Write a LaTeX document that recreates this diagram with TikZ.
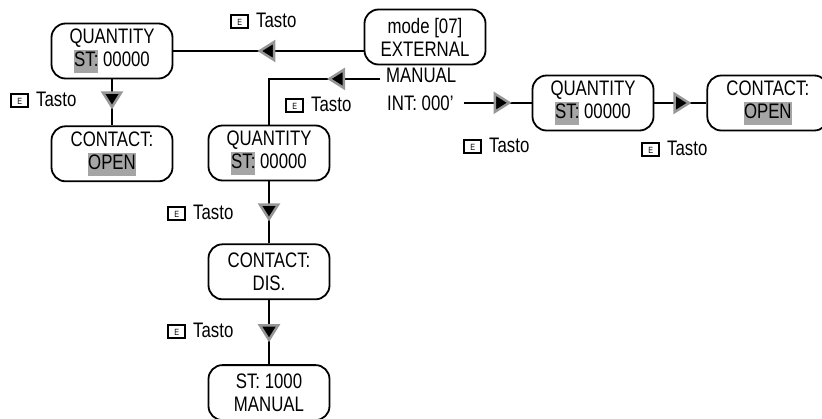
\documentclass[tikz,border=0pt]{standalone}
\usepackage{fontspec}
\setmainfont{Liberation Sans}[FakeStretch=0.8]
\usepackage{xcolor}
\usepackage{tikz}
\usetikzlibrary{arrows.meta, positioning, decorations.markings}

\definecolor{hlgray}{RGB}{165,165,165}
\definecolor{arrowgray}{RGB}{150,150,150}
\newcommand{\dispfont}{\fontsize{21}{23}\selectfont}
\newcommand{\grayhl}[1]{{\setlength{\fboxsep}{0pt}\colorbox{hlgray}{\strut #1}}}
\newcommand{\ekey}{{\setlength{\fboxrule}{2pt}\setlength{\fboxsep}{0pt}%
    \fbox{\makebox[15pt]{\rule{0pt}{11pt}\raisebox{2pt}{\fontsize{9}{9}\selectfont E}}}}}

\begin{document}
\begin{tikzpicture}[
        x=1pt, y=-1pt,
        dispbox/.style={draw, rounded corners=14pt, line width=1.8pt,
            align=center, font=\dispfont, minimum width=121pt, minimum height=55pt,
            inner sep=2pt},
        plaintxt/.style={font=\dispfont, inner ysep=0pt},
        keylbl/.style={anchor=base west, inner sep=0pt, font=\dispfont},
        tri/.tip={Triangle[length=18pt, width=22pt, fill=black, color=arrowgray, line width=2.5pt]},
        flow/.style={line width=2.2pt, postaction={decorate},
            decoration={markings, mark=at position #1 with {\arrow{tri}}}},
    ]
    \useasboundingbox (0,0) rectangle (822,418);

        % Mode
        \node[dispbox] (mode) at (425,37) {mode [07]\\EXTERNAL};
        \node[plaintxt, inner xsep=6pt, anchor=base west] (manualtxt) at (380,82) {MANUAL};
        \node[plaintxt, inner xsep=10pt, anchor=base west] (inttxt) at (377,110) {INT: 000’};

        % External branch
        \node[dispbox] (qtyA) at (112,51) {QUANTITY\\\grayhl{ST:} 00000};
        \node[dispbox, below=46pt of qtyA] (contactA) {CONTACT:\\\grayhl{OPEN}};

        % Manual branch
        \node[dispbox] (qtyC) at (269,153) {QUANTITY\\\grayhl{ST:} 00000};
        \node[dispbox, below=62pt of qtyC] (contactC) {CONTACT:\\DIS.};
        \node[dispbox, below=64pt of contactC] (stman) {ST: 1000\\MANUAL};

        % Internal branch
        \node[dispbox] (qtyF) at (593,103) {QUANTITY\\\grayhl{ST:} 00000};
        \node[dispbox, right=52pt of qtyF] (contactF) {CONTACT:\\\grayhl{OPEN}};

        % Arrows
        \draw[flow=-84pt] (mode.west |- qtyA.east) -- (qtyA.east);
        \draw[flow=-16pt] (qtyA.south) -- (contactA.north);
        \draw[flow=53pt] ([yshift=-4pt]manualtxt.west) -| (qtyC.north);
        \draw[flow=-22pt] (qtyC.south) -- (contactC.north);
        \draw[flow=-22pt] (contactC.south) -- (stman.north);
        \draw[flow=-20pt] (inttxt.east) -- (inttxt.east -| qtyF.west);
        \draw[flow=-15pt] (qtyF.east) -- (contactF.west);

        % Keys
        \node[keylbl] (keymode) at (230,27) {\ekey\hspace{7pt}Tasto};
        \node[keylbl] (keyA) at (10,106) {\ekey\hspace{7pt}Tasto};
        \node[keylbl] (keymanual) at (285,111) {\ekey\hspace{7pt}Tasto};
        \node[keylbl] (keyC) at (167,219) {\ekey\hspace{7pt}Tasto};
        \node[keylbl] (keyD) at (167,337) {\ekey\hspace{7pt}Tasto};
        \node[keylbl] (keyint) at (463,152) {\ekey\hspace{7pt}Tasto};
        \node[keylbl] (keyF) at (641,155) {\ekey\hspace{7pt}Tasto};

    \end{tikzpicture}
\end{document}
